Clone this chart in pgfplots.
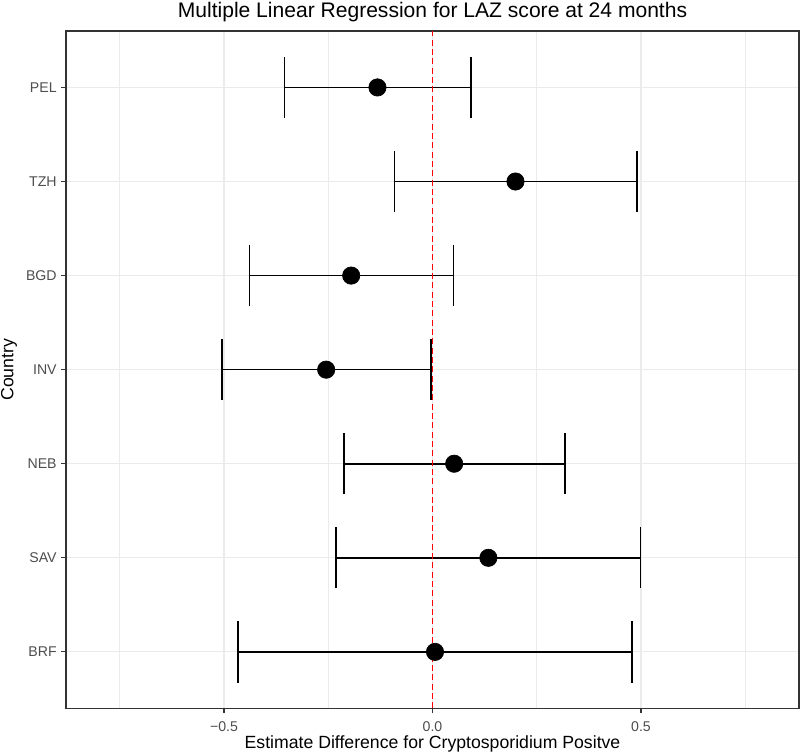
\documentclass[border=0pt]{standalone}
\usepackage{pgfplots}
\pgfplotsset{compat=1.18}
\usepackage{pgfplotstable}
\usepackage{fontspec}
\setmainfont{Liberation Sans}

\definecolor{gridgray}{HTML}{EBEBEB}
\definecolor{framegray}{HTML}{333333}
\definecolor{ticktext}{HTML}{4D4D4D}

% y: 7 = PEL (top) ... 1 = BRF (bottom)
\pgfplotstableread{
y est lo hi
7 -0.132 -0.355 0.092
6 0.199 -0.091 0.490
5 -0.195 -0.439 0.050
4 -0.255 -0.505 -0.004
3 0.052 -0.212 0.318
2 0.134 -0.231 0.499
1 0.006 -0.466 0.478
}\ctdata

\begin{document}
\begin{tikzpicture}
\useasboundingbox (-49.5pt,-33.5pt) rectangle (550.5pt,531.25pt);
\begin{axis}[
    scale only axis,
    width=549.75pt, height=508pt,
    xmin=-0.879, xmax=0.879,
    ymin=0.4, ymax=7.6,
    xtick={-0.5,0,0.5},
    xticklabels={−0.5,0.0,0.5},
    minor xtick={-0.75,-0.25,0.25,0.75},
    ytick={1,2,3,4,5,6,7},
    yticklabels={BRF,SAV,NEB,INV,BGD,TZH,PEL},
    grid=both,
    major grid style={gridgray, line width=0.9pt},
    minor grid style={gridgray, line width=0.5pt},
    tick align=outside,
    major tick length=3.4pt,
    minor tick length=0pt,
    xtick pos=bottom, ytick pos=left,
    axis line style={framegray, line width=0.8pt},
    every tick/.style={framegray, line width=0.8pt},
    tick label style={font=\fontsize{10.6}{12}\selectfont, text=ticktext},
    xticklabel style={anchor=base, inner sep=0pt, yshift=-14.25pt},
    yticklabel style={anchor=east, inner sep=0pt, xshift=-3.4pt},
    title={Multiple Linear Regression for LAZ score at 24 months},
    title style={at={(axis description cs:0.5,1)}, anchor=base, inner sep=0pt,
        yshift=4pt, font=\fontsize{15.8}{18}\selectfont},
    xlabel={Estimate Difference for Cryptosporidium Positve},
    xlabel style={at={(axis description cs:0.5,0)}, anchor=base, inner sep=0pt,
        yshift=-30pt, font=\fontsize{13.25}{15}\selectfont},
    ylabel={Country},
    ylabel style={at={(axis description cs:0,0.5)}, anchor=base, inner sep=0pt,
        yshift=39.4pt, font=\fontsize{13.25}{15}\selectfont},
    clip=false,
]
% confidence intervals
\addplot[black, only marks, mark=none,
    error bars/.cd,
      x dir=both, x explicit,
      error mark=|,
      error bar style={black, solid, line width=1.2pt},
      error mark options={black, solid, line width=1.2pt, mark size=23pt}]
    table[x=est, y=y,
      x error plus expr=\thisrow{hi}-\thisrow{est},
      x error minus expr=\thisrow{est}-\thisrow{lo}] {\ctdata};
% point estimates
\addplot[only marks, mark=*, mark size=6.5pt,
    mark options={fill=black, draw=black, line width=0.5pt}]
    table[x=est, y=y] {\ctdata};
% reference line at zero
\addplot[red, line width=0.8pt, dash pattern=on 4.5pt off 2.5pt]
    coordinates {(0,0.4) (0,7.6)};
\end{axis}
\end{tikzpicture}
\end{document}
